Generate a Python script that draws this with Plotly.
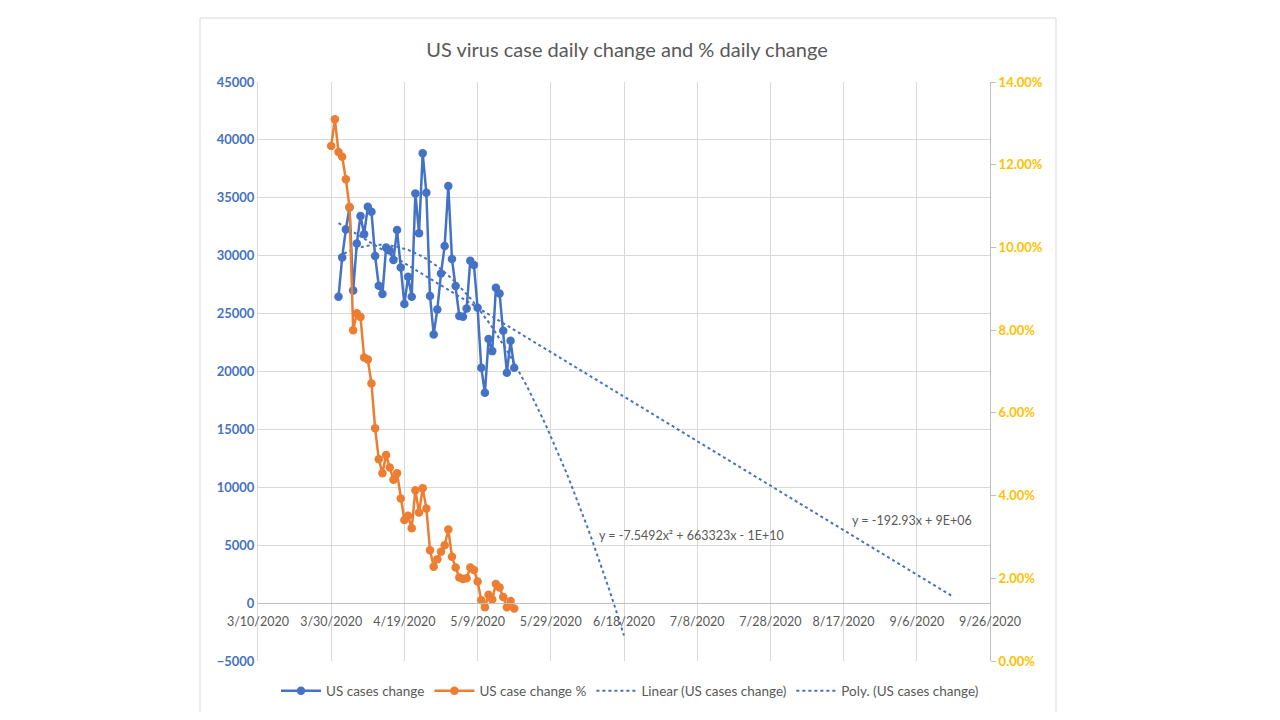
import numpy as np
import pandas as pd
import plotly.graph_objects as go

# ---- data ----
start_date = "2020-03-30"
end_date = "2020-05-19"
dates = pd.date_range(start_date, end_date, freq="D")

us_cases_change = [None, None,
    26450, 29850, 32270, 34160, 26990, 31060, 33420, 31850, 34220, 33790,
    29970, 27400, 26690, 30700, 30440, 29620, 32210, 28990, 25820, 28180,
    26450, 35380, 31930, 38840, 35430, 26510, 23200, 25360, 28470, 30830,
    36010, 29710, 27380, 24790, 24730, 25450, 29560, 29190, 25500, 20320,
    18160, 22800, 21760, 27230, 26740, 23520, 19890, 22650, 20320]

us_case_change_pct = [
    12.45, 13.10, 12.31, 12.19, 11.65, 10.98, 8.00, 8.41, 8.32, 7.34, 7.29,
    6.71, 5.63, 4.88, 4.54, 4.98, 4.68, 4.38, 4.54, 3.93, 3.41, 3.51, 3.21,
    4.13, 3.59, 4.18, 3.69, 2.68, 2.28, 2.46, 2.64, 2.80, 3.18, 2.52, 2.26,
    2.02, 1.98, 2.00, 2.26, 2.20, 1.92, 1.47, 1.30, 1.60, 1.49, 1.86, 1.78,
    1.55, 1.30, 1.45, 1.27]

linear_forward_days = 120
poly_forward_days = 30
eq_poly = "y = -7.5492x² + 663323x - 1E+10"
eq_linear = "y = -192.93x + 9E+06"

x_ticks_start = "2020-03-10"
x_range = ["2020-03-10", "2020-09-26"]

# ---- trendlines (least squares on the blue series, as Excel does) ----
blue = pd.Series(us_cases_change, index=dates, dtype=float).dropna()
x0 = blue.index[0]
xd = np.array([(d - x0).days for d in blue.index], dtype=float)
yv = blue.values
lin = np.polyfit(xd, yv, 1)
quad = np.polyfit(xd, yv, 2)
last = blue.index[-1]
lin_dates = pd.date_range(x0, last + pd.Timedelta(days=linear_forward_days), freq="D")
poly_dates = pd.date_range(x0, last + pd.Timedelta(days=poly_forward_days), freq="D")
lin_x = np.array([(d - x0).days for d in lin_dates], dtype=float)
poly_x = np.array([(d - x0).days for d in poly_dates], dtype=float)
lin_y = np.polyval(lin, lin_x)
poly_y = np.polyval(quad, poly_x)

BLUE = "#4472C4"
ORANGE = "#ED7D31"
GOLD = "#FFC000"
GRAY = "#595959"
GRID = "#D9D9D9"
FONT = "Lato"

# page offset (body margin) compensation
OFF = 8
W, H = 1264, 704
PL, PR, PT, PB = 258, 990, 82, 661  # plot area in screen pixels
PW, PH = PR - PL, PB - PT


def px(xs):
    return (xs - PL) / PW


def py(ys):
    return (PB - ys) / PH


fig = go.Figure()
fig.add_trace(go.Scatter(x=dates, y=us_cases_change, name="US cases change",
                         mode="lines+markers", line=dict(color=BLUE, width=2.5),
                         marker=dict(size=8.5, color=BLUE), yaxis="y"))
fig.add_trace(go.Scatter(x=dates, y=[v / 100 for v in us_case_change_pct],
                         name="US case change %", mode="lines+markers",
                         line=dict(color=ORANGE, width=2.5),
                         marker=dict(size=8.5, color=ORANGE), yaxis="y2"))
fig.add_trace(go.Scatter(x=lin_dates, y=lin_y, name="Linear (US cases change)",
                         mode="lines", line=dict(color=BLUE, width=2, dash="dot"),
                         yaxis="y"))
fig.add_trace(go.Scatter(x=poly_dates, y=poly_y, name="Poly. (US cases change)",
                         mode="lines", line=dict(color=BLUE, width=2, dash="dot"),
                         yaxis="y"))

fig.update_layout(
    width=W, height=H,
    margin=dict(l=PL - OFF, r=W - (PR - OFF), t=PT - OFF, b=H - (PB - OFF),
                autoexpand=False),
    paper_bgcolor="white", plot_bgcolor="white",
    font=dict(family=FONT, color=GRAY),
    title=dict(text="US virus case daily change and % daily change",
               x=(627 - OFF) / W, xanchor="center", y=1 - (50 - OFF) / H,
               yanchor="middle",
               font=dict(size=20, color=GRAY, family=FONT)),
    xaxis=dict(type="date", range=x_range, tick0=x_ticks_start,
               dtick=20 * 86400000, tickformat="%-m/%-d/%Y",
               showgrid=True, gridcolor=GRID, gridwidth=1,
               showline=True, linecolor="#BFBFBF", linewidth=1,
               anchor="free", position=0.1, ticks="", ticklabelstandoff=7,
               tickfont=dict(size=12.5, color=GRAY, family=FONT)),
    yaxis=dict(range=[-5000, 45000], dtick=5000, showgrid=True,
               gridcolor=GRID, zeroline=False, showline=True, linecolor=GRID,
               tickformat="d",
               tickfont=dict(size=13, color=BLUE, family=FONT, weight="bold")),
    yaxis2=dict(range=[0, 0.14], dtick=0.02, overlaying="y", side="right",
                showgrid=False, zeroline=False, tickformat=".2%",
                showline=True, linecolor="#BFBFBF", ticks="outside",
                ticklen=5, tickcolor="#BFBFBF",
                tickfont=dict(size=13, color=GOLD, family=FONT, weight="bold")),
    legend=dict(orientation="h", x=px(630), xanchor="center", y=py(691),
                yanchor="middle", font=dict(size=13.5, color=GRAY, family=FONT),
                itemwidth=40, bgcolor="rgba(0,0,0,0)"),
    showlegend=True,
)

fig.add_annotation(text=eq_poly, xref="paper", yref="paper",
                   x=px(691), y=py(535), xanchor="center", yanchor="middle",
                   showarrow=False, font=dict(size=12.5, color=GRAY, family=FONT))
fig.add_annotation(text=eq_linear, xref="paper", yref="paper",
                   x=px(912), y=py(520), xanchor="center", yanchor="middle",
                   showarrow=False, font=dict(size=12.5, color=GRAY, family=FONT))

# outer chart border
fig.add_shape(type="rect", xref="paper", yref="paper",
              x0=px(200), x1=px(1056), y0=py(713), y1=py(18),
              line=dict(color="#D9D9D9", width=1), layer="below")

fig.write_html("out.html")
